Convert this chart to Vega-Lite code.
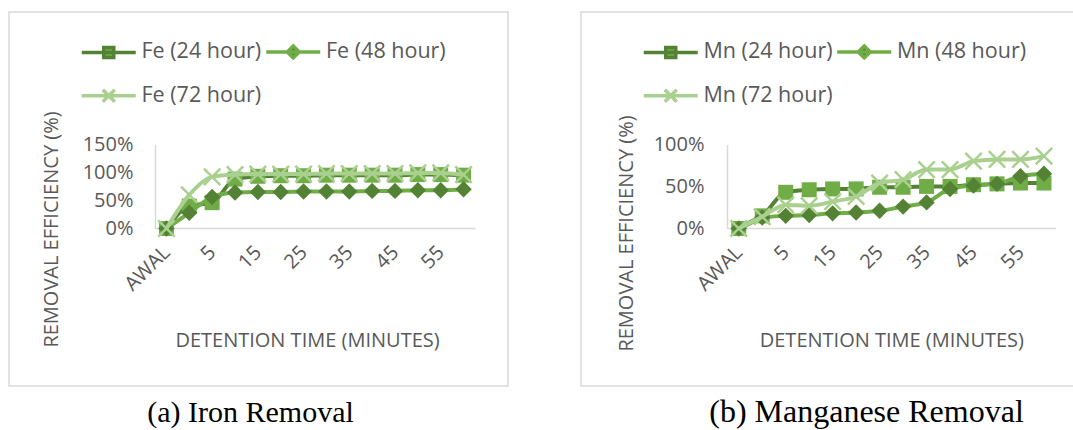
{
  "$schema": "https://vega.github.io/schema/vega-lite/v6.json",
  "background": "white",
  "padding": {"left": 8, "top": 11, "right": 0, "bottom": 0},
  "config": {
    "view": {"stroke": "#D9D9D9", "strokeWidth": 1.5},
    "axis": {
      "grid": false, "ticks": false,
      "domainColor": "#D9D9D9", "domainWidth": 1.5,
      "labelColor": "#595959", "titleColor": "#595959",
      "labelFont": "Open Sans", "titleFont": "Open Sans",
      "labelFontSize": 20, "titleFontSize": 20, "titleFontWeight": "normal"
    },
    "legend": {
      "labelFont": "Open Sans", "labelFontSize": 21.5, "labelColor": "#595959",
      "symbolSize": 4, "symbolStrokeWidth": 3.5, "symbolOpacity": 1,
      "columns": 2, "direction": "horizontal", "orient": "none", "padding": 0
    },
    "title": {"font": "Liberation Serif", "fontSize": 30, "fontWeight": "normal", "color": "#000000"}
  },
  "datasets": {
    "fe": [
      {"time": "AWAL", "series": "Fe (24 hour)", "removal": 0},
      {"time": "0", "series": "Fe (24 hour)", "removal": 0.40},
      {"time": "5", "series": "Fe (24 hour)", "removal": 0.46},
      {"time": "10", "series": "Fe (24 hour)", "removal": 0.88},
      {"time": "15", "series": "Fe (24 hour)", "removal": 0.93},
      {"time": "20", "series": "Fe (24 hour)", "removal": 0.94},
      {"time": "25", "series": "Fe (24 hour)", "removal": 0.94},
      {"time": "30", "series": "Fe (24 hour)", "removal": 0.95},
      {"time": "35", "series": "Fe (24 hour)", "removal": 0.95},
      {"time": "40", "series": "Fe (24 hour)", "removal": 0.95},
      {"time": "45", "series": "Fe (24 hour)", "removal": 0.95},
      {"time": "50", "series": "Fe (24 hour)", "removal": 0.96},
      {"time": "55", "series": "Fe (24 hour)", "removal": 0.96},
      {"time": "60", "series": "Fe (24 hour)", "removal": 0.95},
      {"time": "AWAL", "series": "Fe (48 hour)", "removal": 0},
      {"time": "0", "series": "Fe (48 hour)", "removal": 0.28},
      {"time": "5", "series": "Fe (48 hour)", "removal": 0.56},
      {"time": "10", "series": "Fe (48 hour)", "removal": 0.64},
      {"time": "15", "series": "Fe (48 hour)", "removal": 0.65},
      {"time": "20", "series": "Fe (48 hour)", "removal": 0.65},
      {"time": "25", "series": "Fe (48 hour)", "removal": 0.66},
      {"time": "30", "series": "Fe (48 hour)", "removal": 0.66},
      {"time": "35", "series": "Fe (48 hour)", "removal": 0.66},
      {"time": "40", "series": "Fe (48 hour)", "removal": 0.67},
      {"time": "45", "series": "Fe (48 hour)", "removal": 0.67},
      {"time": "50", "series": "Fe (48 hour)", "removal": 0.68},
      {"time": "55", "series": "Fe (48 hour)", "removal": 0.68},
      {"time": "60", "series": "Fe (48 hour)", "removal": 0.70},
      {"time": "AWAL", "series": "Fe (72 hour)", "removal": 0},
      {"time": "0", "series": "Fe (72 hour)", "removal": 0.60},
      {"time": "5", "series": "Fe (72 hour)", "removal": 0.92},
      {"time": "10", "series": "Fe (72 hour)", "removal": 0.96},
      {"time": "15", "series": "Fe (72 hour)", "removal": 0.97},
      {"time": "20", "series": "Fe (72 hour)", "removal": 0.97},
      {"time": "25", "series": "Fe (72 hour)", "removal": 0.97},
      {"time": "30", "series": "Fe (72 hour)", "removal": 0.98},
      {"time": "35", "series": "Fe (72 hour)", "removal": 0.98},
      {"time": "40", "series": "Fe (72 hour)", "removal": 0.98},
      {"time": "45", "series": "Fe (72 hour)", "removal": 0.98},
      {"time": "50", "series": "Fe (72 hour)", "removal": 0.99},
      {"time": "55", "series": "Fe (72 hour)", "removal": 0.99},
      {"time": "60", "series": "Fe (72 hour)", "removal": 0.96}
    ],
    "mn": [
      {"time": "AWAL", "series": "Mn (24 hour)", "removal": 0},
      {"time": "0", "series": "Mn (24 hour)", "removal": 0.15},
      {"time": "5", "series": "Mn (24 hour)", "removal": 0.43},
      {"time": "10", "series": "Mn (24 hour)", "removal": 0.46},
      {"time": "15", "series": "Mn (24 hour)", "removal": 0.47},
      {"time": "20", "series": "Mn (24 hour)", "removal": 0.47},
      {"time": "25", "series": "Mn (24 hour)", "removal": 0.49},
      {"time": "30", "series": "Mn (24 hour)", "removal": 0.49},
      {"time": "35", "series": "Mn (24 hour)", "removal": 0.50},
      {"time": "40", "series": "Mn (24 hour)", "removal": 0.50},
      {"time": "45", "series": "Mn (24 hour)", "removal": 0.52},
      {"time": "50", "series": "Mn (24 hour)", "removal": 0.53},
      {"time": "55", "series": "Mn (24 hour)", "removal": 0.54},
      {"time": "60", "series": "Mn (24 hour)", "removal": 0.54},
      {"time": "AWAL", "series": "Mn (48 hour)", "removal": 0},
      {"time": "0", "series": "Mn (48 hour)", "removal": 0.13},
      {"time": "5", "series": "Mn (48 hour)", "removal": 0.15},
      {"time": "10", "series": "Mn (48 hour)", "removal": 0.16},
      {"time": "15", "series": "Mn (48 hour)", "removal": 0.18},
      {"time": "20", "series": "Mn (48 hour)", "removal": 0.19},
      {"time": "25", "series": "Mn (48 hour)", "removal": 0.21},
      {"time": "30", "series": "Mn (48 hour)", "removal": 0.26},
      {"time": "35", "series": "Mn (48 hour)", "removal": 0.31},
      {"time": "40", "series": "Mn (48 hour)", "removal": 0.47},
      {"time": "45", "series": "Mn (48 hour)", "removal": 0.51},
      {"time": "50", "series": "Mn (48 hour)", "removal": 0.53},
      {"time": "55", "series": "Mn (48 hour)", "removal": 0.62},
      {"time": "60", "series": "Mn (48 hour)", "removal": 0.65},
      {"time": "AWAL", "series": "Mn (72 hour)", "removal": 0},
      {"time": "0", "series": "Mn (72 hour)", "removal": 0.14},
      {"time": "5", "series": "Mn (72 hour)", "removal": 0.28},
      {"time": "10", "series": "Mn (72 hour)", "removal": 0.27},
      {"time": "15", "series": "Mn (72 hour)", "removal": 0.32},
      {"time": "20", "series": "Mn (72 hour)", "removal": 0.38},
      {"time": "25", "series": "Mn (72 hour)", "removal": 0.54},
      {"time": "30", "series": "Mn (72 hour)", "removal": 0.58},
      {"time": "35", "series": "Mn (72 hour)", "removal": 0.70},
      {"time": "40", "series": "Mn (72 hour)", "removal": 0.70},
      {"time": "45", "series": "Mn (72 hour)", "removal": 0.80},
      {"time": "50", "series": "Mn (72 hour)", "removal": 0.82},
      {"time": "55", "series": "Mn (72 hour)", "removal": 0.82},
      {"time": "60", "series": "Mn (72 hour)", "removal": 0.86}
    ]
  },
  "resolve": {
    "scale": {"x": "independent", "y": "independent", "fill": "independent", "stroke": "independent", "shape": "independent"},
    "legend": {"fill": "independent", "stroke": "independent", "shape": "independent"}
  },
  "hconcat": [
    {
      "width": 499,
      "height": 374,
      "data": {"name": "fe"},
      "title": {"text": "(a) Iron Removal", "orient": "bottom", "anchor": "middle", "baseline": "top", "offset": 12, "dx": -8},
      "encoding": {
        "x": {
          "field": "time", "type": "ordinal",
          "sort": ["AWAL", "0", "5", "10", "15", "20", "25", "30", "35", "40", "45", "50", "55", "60"],
          "scale": {"type": "point", "padding": 0.5, "range": [146, 466]},
          "axis": {
            "values": ["AWAL", "5", "15", "25", "35", "45", "55"],
            "labelAngle": -45, "labelAlign": "right", "labelBaseline": "middle", "labelPadding": 21, "offset": -158,
            "title": "DETENTION TIME (MINUTES)", "titleX": 298, "titleY": 112, "titleBaseline": "middle"
          }
        },
        "y": {
          "field": "removal", "type": "quantitative",
          "scale": {"domain": [0, 1.5], "range": [216.5, 132.3], "nice": false, "zero": true},
          "axis": {
            "values": [0, 0.5, 1, 1.5], "format": ".0%", "labelPadding": 22, "offset": -146,
            "labelAlign": "right", "labelBaseline": "middle",
            "title": "REMOVAL EFFICIENCY (%)", "titleX": -104, "titleY": 217, "titleAngle": -90,
            "titleAlign": "center", "titleBaseline": "middle"
          }
        }
      },
      "layer": [
        {
          "mark": {"type": "point", "filled": true, "opacity": 0, "size": 1},
          "encoding": {
            "fill": {
              "field": "series", "type": "nominal",
              "scale": {"domain": ["Fe (24 hour)", "Fe (48 hour)", "Fe (72 hour)"], "range": ["#70AD47", "#548235", "#A9D08E"]},
              "legend": {"title": null, "columns": 2, "direction": "horizontal", "legendX": 89, "legendY": 29, "labelOffset": 22, "rowPadding": 17, "columnPadding": -3.5}
            },
            "stroke": {
              "field": "series", "type": "nominal",
              "scale": {"domain": ["Fe (24 hour)", "Fe (48 hour)", "Fe (72 hour)"], "range": ["#548235", "#70AD47", "#A9D08E"]},
              "legend": {"title": null, "columns": 2, "direction": "horizontal", "legendX": 89, "legendY": 29, "labelOffset": 22, "rowPadding": 17, "columnPadding": -3.5}
            },
            "shape": {
              "field": "series", "type": "nominal",
              "scale": {
                "domain": ["Fe (24 hour)", "Fe (48 hour)", "Fe (72 hour)"],
                "range": [
                  "M-27,0L27,0M-5,-5L5,-5L5,5L-5,5Z",
                  "M-27,0L27,0M0,-6L6,0L0,6L-6,0Z",
                  "M-27,0L27,0M-6,-6L6,6M-6,6L6,-6"
                ]
              },
              "legend": {"title": null, "columns": 2, "direction": "horizontal", "legendX": 89, "legendY": 29, "labelOffset": 22, "rowPadding": 17, "columnPadding": -3.5}
            }
          }
        },
        {
          "transform": [{"filter": "datum.series === 'Fe (24 hour)'"}],
          "mark": {"type": "line", "interpolate": "monotone", "strokeWidth": 4},
          "encoding": {"stroke": {"field": "series", "type": "nominal", "legend": null}}
        },
        {
          "transform": [{"filter": "datum.series === 'Fe (24 hour)'"}],
          "mark": {"type": "point", "shape": "square", "filled": true, "size": 225, "color": "#70AD47", "opacity": 1}
        },
        {
          "transform": [{"filter": "datum.series === 'Fe (48 hour)'"}],
          "mark": {"type": "line", "interpolate": "monotone", "strokeWidth": 4},
          "encoding": {"stroke": {"field": "series", "type": "nominal", "legend": null}}
        },
        {
          "transform": [{"filter": "datum.series === 'Fe (48 hour)'"}],
          "mark": {"type": "point", "shape": "diamond", "filled": true, "size": 270, "color": "#548235", "opacity": 1}
        },
        {
          "transform": [{"filter": "datum.series === 'Fe (72 hour)'"}],
          "mark": {"type": "line", "interpolate": "monotone", "strokeWidth": 4},
          "encoding": {"stroke": {"field": "series", "type": "nominal", "legend": null}}
        },
        {
          "transform": [{"filter": "datum.series === 'Fe (72 hour)'"}],
          "mark": {"type": "point", "shape": "M-1,-1L1,1M-1,1L1,-1", "filled": false, "size": 270, "stroke": "#A9D08E", "strokeWidth": 2.5, "opacity": 1}
        }
      ]
    },
    {
      "width": 495,
      "height": 374,
      "data": {"name": "mn"},
      "title": {"text": "(b) Manganese Removal", "orient": "bottom", "anchor": "middle", "baseline": "top", "offset": 11, "dx": 38, "fontSize": 32},
      "encoding": {
        "x": {
          "field": "time", "type": "ordinal",
          "sort": ["AWAL", "0", "5", "10", "15", "20", "25", "30", "35", "40", "45", "50", "55", "60"],
          "scale": {"type": "point", "padding": 0.5, "range": [146, 474.7]},
          "axis": {
            "values": ["AWAL", "5", "15", "25", "35", "45", "55"],
            "labelAngle": -45, "labelAlign": "right", "labelBaseline": "middle", "labelPadding": 21, "offset": -158,
            "title": "DETENTION TIME (MINUTES)", "titleY": 112, "titleBaseline": "middle"
          }
        },
        "y": {
          "field": "removal", "type": "quantitative",
          "scale": {"domain": [0, 1], "range": [216.5, 132.3], "nice": false, "zero": true},
          "axis": {
            "values": [0, 0.5, 1], "format": ".0%", "labelPadding": 23, "offset": -146,
            "labelAlign": "right", "labelBaseline": "middle",
            "title": "REMOVAL EFFICIENCY (%)", "titleX": -101, "titleY": 221, "titleAngle": -90,
            "titleAlign": "center", "titleBaseline": "middle"
          }
        }
      },
      "layer": [
        {
          "mark": {"type": "point", "filled": true, "opacity": 0, "size": 1},
          "encoding": {
            "fill": {
              "field": "series", "type": "nominal",
              "scale": {"domain": ["Mn (24 hour)", "Mn (48 hour)", "Mn (72 hour)"], "range": ["#70AD47", "#548235", "#A9D08E"]},
              "legend": {"title": null, "columns": 2, "direction": "horizontal", "legendX": 79, "legendY": 29, "labelOffset": 22, "rowPadding": 17, "columnPadding": -3.5}
            },
            "stroke": {
              "field": "series", "type": "nominal",
              "scale": {"domain": ["Mn (24 hour)", "Mn (48 hour)", "Mn (72 hour)"], "range": ["#548235", "#70AD47", "#A9D08E"]},
              "legend": {"title": null, "columns": 2, "direction": "horizontal", "legendX": 79, "legendY": 29, "labelOffset": 22, "rowPadding": 17, "columnPadding": -3.5}
            },
            "shape": {
              "field": "series", "type": "nominal",
              "scale": {
                "domain": ["Mn (24 hour)", "Mn (48 hour)", "Mn (72 hour)"],
                "range": [
                  "M-27,0L27,0M-5,-5L5,-5L5,5L-5,5Z",
                  "M-27,0L27,0M0,-6L6,0L0,6L-6,0Z",
                  "M-27,0L27,0M-6,-6L6,6M-6,6L6,-6"
                ]
              },
              "legend": {"title": null, "columns": 2, "direction": "horizontal", "legendX": 79, "legendY": 29, "labelOffset": 22, "rowPadding": 17, "columnPadding": -3.5}
            }
          }
        },
        {
          "transform": [{"filter": "datum.series === 'Mn (24 hour)'"}],
          "mark": {"type": "line", "interpolate": "monotone", "strokeWidth": 4},
          "encoding": {"stroke": {"field": "series", "type": "nominal", "legend": null}}
        },
        {
          "transform": [{"filter": "datum.series === 'Mn (24 hour)'"}],
          "mark": {"type": "point", "shape": "square", "filled": true, "size": 225, "color": "#70AD47", "opacity": 1}
        },
        {
          "transform": [{"filter": "datum.series === 'Mn (48 hour)'"}],
          "mark": {"type": "line", "interpolate": "monotone", "strokeWidth": 4},
          "encoding": {"stroke": {"field": "series", "type": "nominal", "legend": null}}
        },
        {
          "transform": [{"filter": "datum.series === 'Mn (48 hour)'"}],
          "mark": {"type": "point", "shape": "diamond", "filled": true, "size": 270, "color": "#548235", "opacity": 1}
        },
        {
          "transform": [{"filter": "datum.series === 'Mn (72 hour)'"}],
          "mark": {"type": "line", "interpolate": "monotone", "strokeWidth": 4},
          "encoding": {"stroke": {"field": "series", "type": "nominal", "legend": null}}
        },
        {
          "transform": [{"filter": "datum.series === 'Mn (72 hour)'"}],
          "mark": {"type": "point", "shape": "M-1,-1L1,1M-1,1L1,-1", "filled": false, "size": 270, "stroke": "#A9D08E", "strokeWidth": 2.5, "opacity": 1}
        }
      ]
    }
  ],
  "spacing": 71
}
